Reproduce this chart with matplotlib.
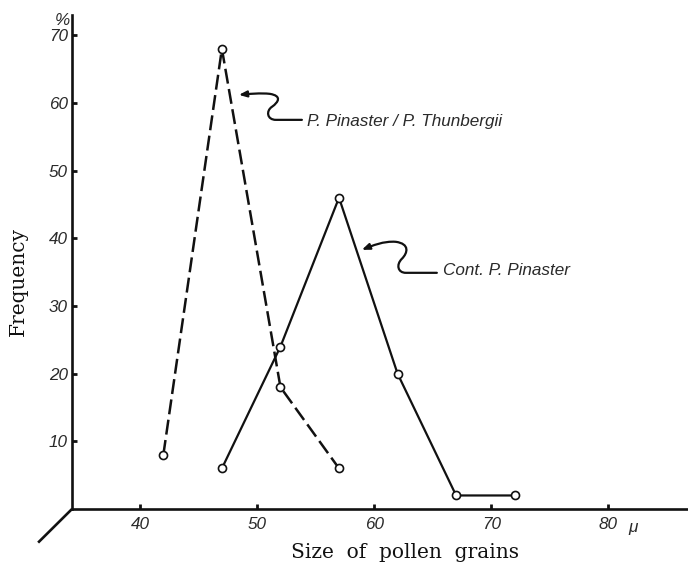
import matplotlib
matplotlib.use("Agg")
import matplotlib.pyplot as plt
import matplotlib.transforms as mtransforms
from matplotlib.path import Path
from matplotlib.patches import FancyArrowPatch
from matplotlib import font_manager

# ---- data ----
hybrid_x = [42, 47, 52, 57]
hybrid_y = [8, 68, 18, 6]
cont_x = [47, 52, 57, 62, 67, 72]
cont_y = [6, 24, 46, 20, 2, 2]
x_ticks = [40, 50, 60, 70, 80]
y_ticks = [10, 20, 30, 40, 50, 60, 70]
label_hybrid = "P. Pinaster / P. Thunbergii"
label_cont = "Cont. P. Pinaster"

# ---- fonts ----
avail = {f.name for f in font_manager.fontManager.ttflist}
hand = "Liberation Sans Narrow" if "Liberation Sans Narrow" in avail else "Liberation Sans"
serif = "DejaVu Serif"
hsize = 13 if hand == "Liberation Sans Narrow" else 12.3

W, H = 688, 566
fig = plt.figure(figsize=(W / 100, H / 100), dpi=100)
fig.patch.set_facecolor("white")
ax_l, ax_b, ax_t = 72, 509, 15
ax = fig.add_axes([ax_l / W, (H - ax_b) / H, (W - ax_l) / W, (ax_b - ax_t) / H])
ax.set_xlim(34.2, 86.8)
ax.set_ylim(0, 73)

for s in ("top", "right"):
    ax.spines[s].set_visible(False)
for s in ("left", "bottom"):
    ax.spines[s].set_linewidth(1.9)
    ax.spines[s].set_color("#111111")

ax.set_xticks(x_ticks)
ax.set_yticks(y_ticks)
ax.tick_params(direction="in", length=3.5, width=2, color="#111111")
ax.tick_params(axis="x", pad=6)
ax.tick_params(axis="y", pad=3)
for lab in ax.get_xticklabels() + ax.get_yticklabels():
    lab.set_fontfamily(hand)
    lab.set_fontstyle("italic")
    lab.set_fontsize(hsize)
    lab.set_color("#2a2a2a")

# diagonal third-axis stub at origin
ax.plot([0, -0.055], [0, -0.068], transform=ax.transAxes, color="#111111",
        lw=1.9, clip_on=False, solid_capstyle="butt")

# % and mu units
ax.text(-0.015, 0.988, "%", transform=ax.transAxes, ha="center", va="center",
        fontfamily=hand, fontstyle="italic", fontsize=hsize, color="#2a2a2a")
ax.text(0.91, -0.022, "\u03bc", transform=ax.transAxes, ha="center", va="top",
        fontfamily=hand, fontstyle="italic", fontsize=hsize, color="#2a2a2a")

# series
ax.plot(hybrid_x, hybrid_y, color="#111111", lw=1.8, dashes=(6.0, 2.2),
        marker="o", ms=5.8, mfc="white", mec="#111111", mew=1.2, zorder=3, clip_on=False)
ax.plot(cont_x, cont_y, color="#111111", lw=1.6,
        marker="o", ms=5.8, mfc="white", mec="#111111", mew=1.2, zorder=3, clip_on=False)

# axis labels
fig.text(18 / W, 1 - 282 / H, "Frequency", rotation=90, ha="center", va="center",
         fontfamily=serif, fontsize=14.5, color="#111111")
fig.text(405 / W, 1 - 553 / H, "Size  of  pollen  grains", ha="center", va="center",
         fontfamily=serif, fontsize=14.5, color="#111111")


def wavy_arrow(anchor, segs):
    trans = mtransforms.Affine2D().scale(fig.dpi / 100) + \
        mtransforms.ScaledTranslation(anchor[0], anchor[1], ax.transData)
    verts, codes = [], []
    for code, pts in segs:
        verts.extend(pts)
        codes.extend([code] * len(pts))
    path = Path(verts, codes)
    arr = FancyArrowPatch(path=path, arrowstyle="-|>,head_length=0.45,head_width=0.18",
                          mutation_scale=10, lw=1.6, color="#111111", transform=trans)
    fig.add_artist(arr)


# annotation 1 (hybrid)
wavy_arrow((48.45, 61.2), [
    (Path.MOVETO, [(63, -25)]),
    (Path.LINETO, [(37, -25)]),
    (Path.CURVE4, [(28, -25), (27, -16), (33, -12)]),
    (Path.CURVE4, [(40, -7), (43, -1), (31, 1)]),
    (Path.CURVE4, [(22, 2), (10, 1), (0, 0)]),
])
ax.text(54.3, 57.3, label_hybrid, ha="left", va="center", fontfamily=hand,
        fontstyle="italic", fontsize=hsize, color="#2a2a2a")

# annotation 2 (continental)
wavy_arrow((58.95, 38.3), [
    (Path.MOVETO, [(75, -23)]),
    (Path.LINETO, [(44, -23)]),
    (Path.CURVE4, [(36, -23), (34, -15), (40, -9)]),
    (Path.CURVE4, [(46, -3), (48, 6), (34, 8)]),
    (Path.CURVE4, [(22, 9), (10, 4), (0, 0)]),
])
ax.text(65.9, 35.2, label_cont, ha="left", va="center", fontfamily=hand,
        fontstyle="italic", fontsize=hsize, color="#2a2a2a")

fig.savefig("out.png", dpi=100)
